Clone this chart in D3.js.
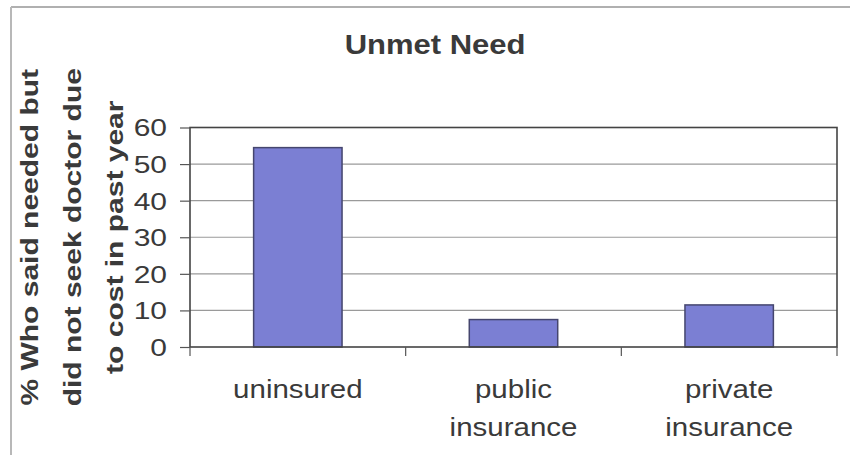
<!DOCTYPE html>
<html>
<head>
<meta charset="UTF-8">
<script src="https://d3js.org/d3.v7.min.js"></script>
<style>
  body { margin: 0; background: #fff; }
  text { font-family: "Liberation Sans", Arial, sans-serif; fill: #3a3a3a; }
</style>
</head>
<body>
<div id="chart"></div>
<script>
// data
const categories = ["uninsured", "public|insurance", "private|insurance"];
const values = [54.5, 7.5, 11.5];
const yTicks = [0, 10, 20, 30, 40, 50, 60];
const yTitleLines = ["% Who said needed but", "did not seek doctor due", "to cost in past year"];
const title = "Unmet Need";

const width = 850, height = 455;
const margin = { left: 190, right: 13, top: 127.5, bottom: 108 };

const svg = d3.select("#chart").append("svg")
    .attr("width", width)
    .attr("height", height);

svg.append("rect").attr("width", width).attr("height", height).attr("fill", "#fff");

// scanned page frame (top and left edges only)
svg.append("line").attr("x1", 11).attr("x2", width).attr("y1", 7).attr("y2", 7)
    .attr("stroke", "#b0b0b0").attr("stroke-width", 2);
svg.append("line").attr("x1", 11).attr("x2", 11).attr("y1", 7).attr("y2", height)
    .attr("stroke", "#b8b8b8").attr("stroke-width", 2);

const x = d3.scaleBand()
    .domain(categories)
    .range([margin.left, width - margin.right])
    .paddingInner(0.59)
    .paddingOuter(0.295);

const y = d3.scaleLinear()
    .domain([0, 60])
    .range([height - margin.bottom, margin.top]);

// gridlines
svg.append("g")
    .selectAll("line")
    .data(yTicks.filter(t => t > 0 && t < 60))
    .join("line")
    .attr("x1", margin.left).attr("x2", width - margin.right)
    .attr("y1", d => y(d)).attr("y2", d => y(d))
    .attr("stroke", "#9a9a9a").attr("stroke-width", 1.2);

// bars
svg.append("g")
    .selectAll("rect")
    .data(values)
    .join("rect")
    .attr("x", (d, i) => x(categories[i]))
    .attr("width", x.bandwidth())
    .attr("y", d => y(d))
    .attr("height", d => y(0) - y(d))
    .attr("fill", "#7b7fd3")
    .attr("stroke", "#45466e")
    .attr("stroke-width", 1.5);

// plot frame
svg.append("rect")
    .attr("x", margin.left).attr("y", margin.top)
    .attr("width", width - margin.right - margin.left)
    .attr("height", y(0) - margin.top)
    .attr("fill", "none")
    .attr("stroke", "#444").attr("stroke-width", 1.6);

// y axis
const yAxis = svg.append("g")
    .attr("transform", `translate(${margin.left},0)`)
    .call(d3.axisLeft(y).tickValues(yTicks).tickSize(10).tickPadding(13));
yAxis.select(".domain").remove();
yAxis.selectAll(".tick line").attr("stroke", "#555").attr("stroke-width", 1.2);
yAxis.selectAll(".tick text")
    .attr("font-size", 30)
    .attr("font-family", null)
    .attr("fill", "#3a3a3a")
    .attr("dy", null)
    .attr("dominant-baseline", "central")
    .attr("transform", function() {
        const ty = d3.select(this.parentNode).datum();
        return `translate(0,0)`;
    });
// squash digits vertically like the scan
yAxis.selectAll(".tick text").each(function() {
    const t = d3.select(this);
    t.attr("transform", "scale(1,0.8)").attr("y", 0);
});

// x axis ticks at band boundaries
const step = x.step();
const bounds = d3.range(categories.length + 1).map(i => margin.left + i * step);
svg.append("g")
    .selectAll("line")
    .data(bounds)
    .join("line")
    .attr("x1", d => d).attr("x2", d => d)
    .attr("y1", y(0)).attr("y2", y(0) + 9)
    .attr("stroke", "#555").attr("stroke-width", 1.2);

// x labels
const xl = svg.append("g")
    .selectAll("text")
    .data(categories)
    .join("text")
    .attr("text-anchor", "middle")
    .attr("font-size", 29.5)
    .attr("transform", d => `translate(${x(d) + x.bandwidth() / 2},398) scale(1,0.85)`);
xl.selectAll("tspan")
    .data(d => d.split("|"))
    .join("tspan")
    .attr("x", 0)
    .attr("dy", (d, i) => i === 0 ? 0 : 38 / 0.85)
    .text(d => d);

// y title
svg.append("g")
    .selectAll("text")
    .data(yTitleLines)
    .join("text")
    .attr("text-anchor", "middle")
    .attr("font-size", 30)
    .attr("font-weight", "bold")
    .attr("transform", (d, i) => `translate(${38 + i * 42.5},${(margin.top + y(0)) / 2}) scale(0.8,1) rotate(-90)`)
    .text(d => d);

// title
svg.append("text")
    .attr("text-anchor", "middle")
    .attr("font-size", 31)
    .attr("font-weight", "bold")
    .attr("transform", "translate(435,54) scale(1,0.92)")
    .text(title);
</script>
</body>
</html>
